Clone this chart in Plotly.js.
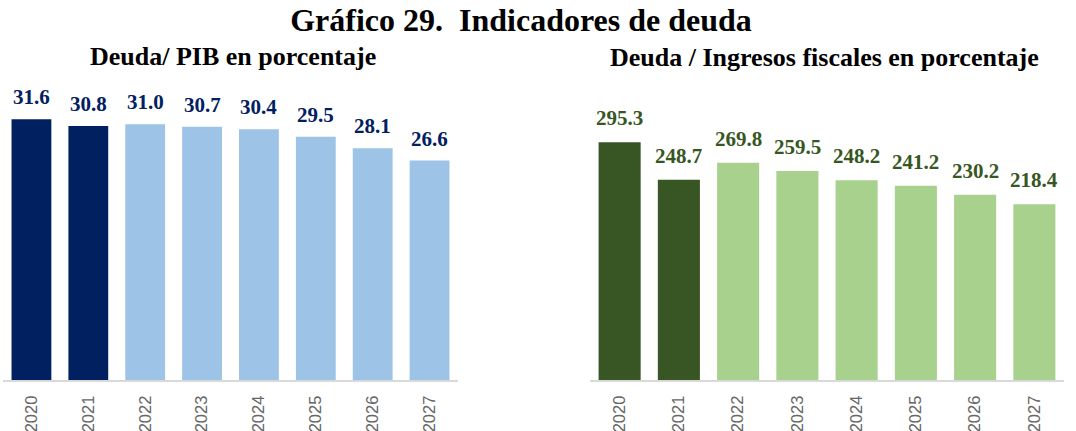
<!DOCTYPE html>
<html>
<head>
<meta charset="utf-8">
<script src="https://cdn.plot.ly/plotly-3.0.1.min.js"></script>
<style>html,body{margin:0;padding:0;background:#fff}#chart{width:1076px;height:431px}</style>
</head>
<body>
<div id="chart"></div>
<script>
// ---- data ----
const years = ["2020","2021","2022","2023","2024","2025","2026","2027"];
const deudaPIB = [31.6, 30.8, 31.0, 30.7, 30.4, 29.5, 28.1, 26.6];
const deudaIngresos = [295.3, 248.7, 269.8, 259.5, 248.2, 241.2, 230.2, 218.4];
const lastObservedYear = "2021";

const chartTitle = "Gráfico 29.  Indicadores de deuda";
const subtitleLeft = "Deuda/ PIB en porcentaje";
const subtitleRight = "Deuda / Ingresos fiscales en porcentaje";

// ---- styles ----
const navy = "#002060", lightBlue = "#9DC3E6";
const darkGreen = "#375623", lightGreen = "#A9D18E";
const serif = "Liberation Serif, Times New Roman, serif";

const colsLeft = years.map(y => y <= lastObservedYear ? navy : lightBlue);
const colsRight = years.map(y => y <= lastObservedYear ? darkGreen : lightGreen);

const traces = [
  {type:"bar", x:years, y:deudaPIB, xaxis:"x", yaxis:"y",
   marker:{color:colsLeft, line:{width:0}}, width:0.7, hoverinfo:"none"},
  {type:"bar", x:years, y:deudaIngresos, xaxis:"x2", yaxis:"y2",
   marker:{color:colsRight, line:{width:0}}, width:0.71, hoverinfo:"none"}
];

const annotations = [];
years.forEach((yr,i)=>{
  annotations.push({xref:"x", yref:"y", x:i, y:deudaPIB[i], text:"<b>"+deudaPIB[i].toFixed(1)+"</b>",
    showarrow:false, yanchor:"middle", yshift:22,
    font:{family:serif, size:21, color:navy}});
  annotations.push({xref:"x2", yref:"y2", x:i, y:deudaIngresos[i], text:"<b>"+deudaIngresos[i].toFixed(1)+"</b>",
    showarrow:false, yanchor:"middle", yshift:24,
    font:{family:serif, size:21, color:darkGreen}});
});
annotations.push({xref:"paper", yref:"paper", x:233/1076, y:(380-56)/380, text:"<b>"+subtitleLeft+"</b>",
  showarrow:false, xanchor:"center", yanchor:"middle", font:{family:serif, size:26, color:"#000"}});
annotations.push({xref:"paper", yref:"paper", x:824/1076, y:(380-57)/380, text:"<b>"+subtitleRight+"</b>",
  showarrow:false, xanchor:"center", yanchor:"middle", font:{family:serif, size:26, color:"#000"}});

const xCommon = {type:"category", range:[-0.5, years.length-0.5], autorange:false,
  showline:true, linecolor:"#D9D9D9", linewidth:2,
  showgrid:false, zeroline:false, tickangle:-90, ticks:"outside", ticklen:7, tickcolor:"rgba(0,0,0,0)",
  tickfont:{family:"Liberation Sans, Arial, sans-serif", size:16.5, color:"#666666"}, automargin:false};
const yCommon = {showgrid:false, zeroline:false, showline:false, showticklabels:false, ticks:"", fixedrange:true, autorange:false};

const layout = {
  width:1076, height:431,
  margin:{l:0, r:0, t:0, b:51},
  paper_bgcolor:"#fff", plot_bgcolor:"rgba(0,0,0,0)",
  showlegend:false, bargap:0.3,
  title:{text:"<b>"+chartTitle+"</b>", x:521/1076, xanchor:"center", xref:"paper",
    y:1-20/431, yref:"container", yanchor:"middle",
    font:{family:serif, size:32, color:"#000"}},
  xaxis:Object.assign({}, xCommon, {domain:[3/1076, 458/1076], anchor:"y"}),
  xaxis2:Object.assign({}, xCommon, {domain:[590/1076, 1064/1076], anchor:"y2"}),
  yaxis:Object.assign({}, yCommon, {domain:[0,1], range:[0, 380/8.25], anchor:"x"}),
  yaxis2:Object.assign({}, yCommon, {domain:[0,1], range:[0, 380/0.805], anchor:"x2"}),
  annotations:annotations
};

Plotly.newPlot("chart", traces, layout, {staticPlot:true, displayModeBar:false});
</script>
</body>
</html>
